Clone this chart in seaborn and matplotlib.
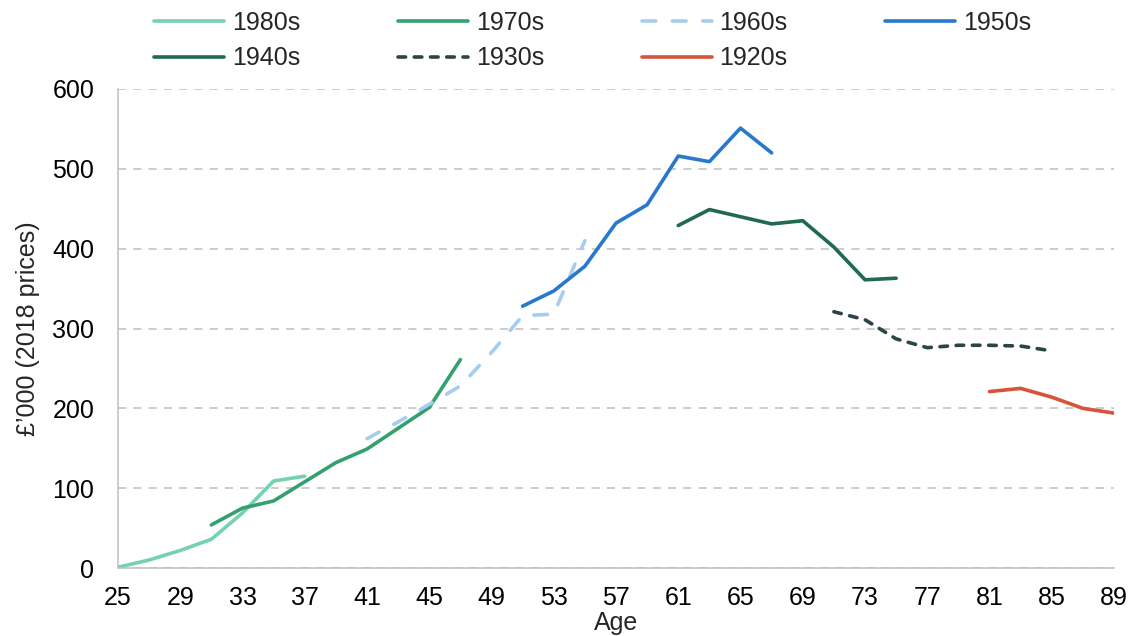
import matplotlib
matplotlib.use("Agg")
import matplotlib.pyplot as plt
import pandas as pd
import seaborn as sns

# Wealth by age for each birth cohort (£'000, 2018 prices)
cohorts = ["1980s", "1970s", "1960s", "1950s", "1940s", "1930s", "1920s"]

ages_1980s = [25, 27, 29, 31, 33, 35, 37]
wealth_1980s = [1, 10, 22, 36, 69, 109, 115]

ages_1970s = [31, 33, 35, 37, 39, 41, 43, 45, 47]
wealth_1970s = [54, 75, 84, 108, 132, 149, 175, 201, 261]

ages_1960s = [41, 43, 45, 47, 49, 51, 53, 55]
wealth_1960s = [162, 183, 205, 228, 270, 316, 318, 410]

ages_1950s = [51, 53, 55, 57, 59, 61, 63, 65, 67]
wealth_1950s = [328, 347, 378, 432, 455, 516, 509, 551, 520]

ages_1940s = [61, 63, 65, 67, 69, 71, 73, 75]
wealth_1940s = [429, 449, 440, 431, 435, 402, 361, 363]

ages_1930s = [71, 73, 75, 77, 79, 81, 83, 85]
wealth_1930s = [321, 311, 287, 276, 279, 279, 278, 272]

ages_1920s = [81, 83, 85, 87, 89]
wealth_1920s = [221, 225, 214, 200, 194]

x_ticks = list(range(25, 90, 4))
y_ticks = list(range(0, 601, 100))

palette = {
    "1980s": "#74D3AE",
    "1970s": "#34A070",
    "1960s": "#A6CDF0",
    "1950s": "#2878CC",
    "1940s": "#1F6B4B",
    "1930s": "#2B4447",
    "1920s": "#D6543A",
}
dashes = {
    "1980s": "",
    "1970s": "",
    "1960s": (3.8, 4.6),
    "1950s": "",
    "1940s": "",
    "1930s": (2.1, 2.4),
    "1920s": "",
}

sns.set_style("white")
plt.rcParams["font.family"] = ["Liberation Sans", "DejaVu Sans"]

frames = []
all_ages = [ages_1980s, ages_1970s, ages_1960s, ages_1950s, ages_1940s, ages_1930s, ages_1920s]
all_wealth = [wealth_1980s, wealth_1970s, wealth_1960s, wealth_1950s, wealth_1940s, wealth_1930s, wealth_1920s]
for name, a, w in zip(cohorts, all_ages, all_wealth):
    frames.append(pd.DataFrame({"Age": a, "Wealth": w, "Cohort": name}))
df = pd.concat(frames, ignore_index=True)

fig = plt.figure(figsize=(11.33, 6.36), dpi=100)
ax = fig.add_axes([118 / 1133, 1 - 568 / 636, (1114 - 118) / 1133, (568 - 89) / 636])

sns.lineplot(data=df, x="Age", y="Wealth", hue="Cohort", style="Cohort",
             hue_order=cohorts, style_order=cohorts, palette=palette, dashes=dashes,
             linewidth=2.6, legend=False, ax=ax,
             dash_capstyle="round", solid_capstyle="round")

ax.set_xlim(25, 89)
ax.set_ylim(0, 600)
ax.set_xticks(x_ticks)
ax.set_yticks(y_ticks)
ax.grid(axis="y", color="#BFBFBF", linestyle=(0, (5.3, 4.7)), linewidth=1.1)
ax.grid(axis="x", visible=False)
ax.set_axisbelow(True)

for side in ["top", "right"]:
    ax.spines[side].set_visible(False)
for side in ["left", "bottom"]:
    ax.spines[side].set_color("#BFBFBF")
    ax.spines[side].set_linewidth(1.1)

ax.tick_params(axis="both", length=6, width=1.1, color="#BFBFBF", labelsize=18, labelcolor="black")
ax.tick_params(axis="x", pad=7)
ax.tick_params(axis="y", pad=11)
ax.set_xlabel("Age", fontsize=18, labelpad=1)
ax.set_ylabel("£’000 (2018 prices)", fontsize=18, labelpad=9)

# legend laid out row by row like the original
lines = dict(zip(cohorts, ax.get_lines()))
order = ["1980s", "1940s", "1970s", "1930s", "1960s", "1920s", "1950s"]
fig.legend([lines[c] for c in order], order, loc="upper left",
           bbox_to_anchor=(154 / 1133, 1 - 11 / 636), ncol=4, frameon=False,
           fontsize=18, handlelength=2.8, handletextpad=0.32, columnspacing=3.9,
           labelspacing=0.45, borderpad=0, borderaxespad=0)

fig.savefig("out.png", dpi=100)
